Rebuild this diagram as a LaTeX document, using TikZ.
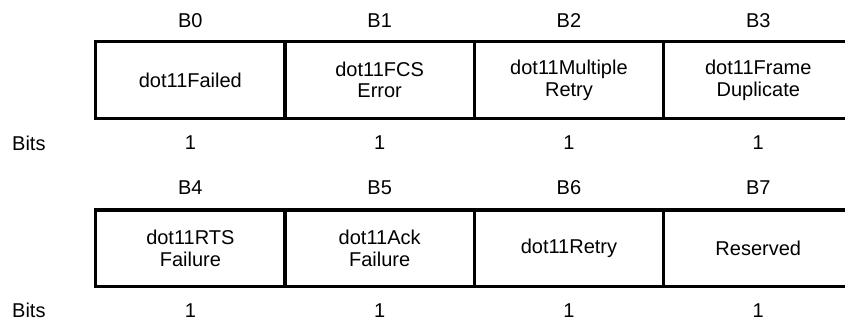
\documentclass[tikz,border=0pt]{standalone}
\usepackage{fontspec}
\setmainfont{Liberation Sans}
\newcommand\diagfont{\fontsize{20}{21.7}\selectfont}
\begin{document}
\begin{tikzpicture}[x=1pt,y=-1pt,
  cell/.style={draw, line width=3.3pt, minimum width=189.3pt, minimum height=76.6pt,
    inner sep=0pt, align=center, font=\diagfont},
  lbl/.style={font=\diagfont, inner sep=0pt}]
\useasboundingbox (0,0) rectangle (845,320);
\clip (0,0) rectangle (845,320);
% row 1
\node[lbl] (b0) at (190.35,21) {B0};
\node[lbl] (b1) at (379.65,21) {B1};
\node[lbl] (b2) at (568.95,21) {B2};
\node[lbl] (b3) at (758.25,21) {B3};
\node[cell] (c0) at (190.35,80) {dot11Failed};
\node[cell] (c1) at (379.65,80) {dot11FCS\\Error};
\node[cell] (c2) at (568.95,80) {dot11Multiple\\Retry};
\node[cell] (c3) at (758.25,80) {dot11Frame\\Duplicate};
\node[lbl, anchor=west] (bits1) at (12,143) {Bits};
\node[lbl] (o0) at (190.35,143) {1};
\node[lbl] (o1) at (379.65,143) {1};
\node[lbl] (o2) at (568.95,143) {1};
\node[lbl] (o3) at (758.25,143) {1};
% row 2
\node[lbl] (b4) at (190.35,188) {B4};
\node[lbl] (b5) at (379.65,188) {B5};
\node[lbl] (b6) at (568.95,188) {B6};
\node[lbl] (b7) at (758.25,188) {B7};
\node[cell] (c4) at (190.35,248.35) {dot11RTS\\Failure};
\node[cell] (c5) at (379.65,248.35) {dot11Ack\\Failure};
\node[cell] (c6) at (568.95,248.35) {dot11Retry};
\node[cell] (c7) at (758.25,248.35) {Reserved};
\node[lbl, anchor=west] (bits2) at (12,310.5) {Bits};
\node[lbl] (o4) at (190.35,310.5) {1};
\node[lbl] (o5) at (379.65,310.5) {1};
\node[lbl] (o6) at (568.95,310.5) {1};
\node[lbl] (o7) at (758.25,310.5) {1};
\end{tikzpicture}
\end{document}
